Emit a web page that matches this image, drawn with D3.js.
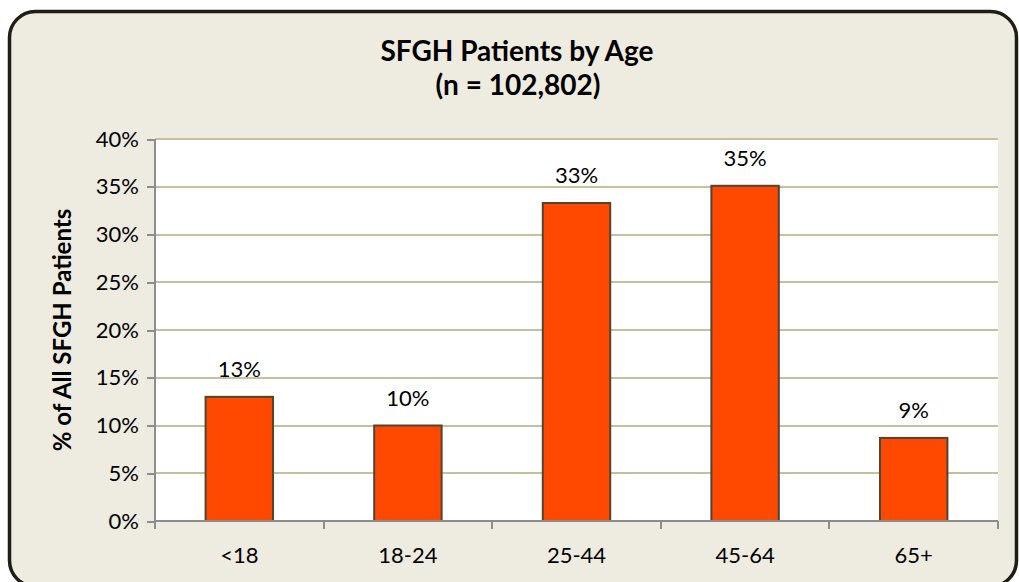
<html>

<head>
    <meta charset="utf-8">
    <title>SFGH Patients by Age</title>
    <style>
        body {
            margin: 0;
            background: #fff;
        }

        text {
            font-family: Lato, "Open Sans", sans-serif;
            fill: #000;
        }

        .axis path,
        .axis line {
            fill: none;
            stroke: #8c8c8c;
            stroke-width: 2;
            shape-rendering: crispEdges;
        }

        .axis text {
            font-size: 22px;
        }

        .grid line {
            stroke: #c7c09f;
            stroke-width: 2;
            shape-rendering: crispEdges;
        }
    </style>
    <script src="https://cdn.jsdelivr.net/npm/d3@7"></script>
</head>

<body>

</body>
<script>
    var ageGroups = ["<18", "18-24", "25-44", "45-64", "65+"];
    var patientShare = [13.0, 10.0, 33.3, 35.1, 8.7];
    var yTicks = [0, 5, 10, 15, 20, 25, 30, 35, 40];

    var data = ageGroups.map(function(g, i) {
        return { group: g, value: patientShare[i] };
    });

    var W = 1019,
        H = 582;
    var margin = { top: 139, right: 21, bottom: 61, left: 155 },
        width = W - margin.left - margin.right,
        height = H - margin.top - margin.bottom;

    var svg = d3.select("body").append("svg")
        .attr("width", W)
        .attr("height", H);

    // chart frame (bottom edge runs just past the picture)
    svg.append("rect")
        .attr("x", 9.5)
        .attr("y", 11.5)
        .attr("width", 1007)
        .attr("height", 575)
        .attr("rx", 26)
        .attr("fill", "#eeebe0")
        .attr("stroke", "#1f1d14")
        .attr("stroke-width", 3.5);

    svg.append("text")
        .attr("x", 517)
        .attr("y", 61)
        .attr("text-anchor", "middle")
        .style("font-size", "28px")
        .style("font-weight", "bold")
        .text("SFGH Patients by Age");
    svg.append("text")
        .attr("x", 518)
        .attr("y", 95)
        .attr("text-anchor", "middle")
        .style("font-size", "28px")
        .style("font-weight", "bold")
        .text("(n = 102,802)");

    var g = svg.append("g")
        .attr("transform", "translate(" + margin.left + "," + margin.top + ")");

    var x = d3.scaleBand()
        .domain(ageGroups)
        .range([0, width])
        .paddingInner(0.6)
        .paddingOuter(0.3);

    var y = d3.scaleLinear()
        .domain([0, 40])
        .range([height, 0]);

    g.append("rect")
        .attr("width", width)
        .attr("height", height)
        .attr("fill", "#fff");

    g.append("g")
        .attr("class", "grid")
        .selectAll("line")
        .data(yTicks.slice(1))
        .enter()
        .append("line")
        .attr("x1", 0)
        .attr("x2", width)
        .attr("y1", function(d) { return y(d); })
        .attr("y2", function(d) { return y(d); });

    g.selectAll(".bar")
        .data(data)
        .enter()
        .append("rect")
        .attr("class", "bar")
        .attr("x", function(d) { return x(d.group); })
        .attr("y", function(d) { return y(d.value); })
        .attr("width", x.bandwidth())
        .attr("height", function(d) { return height - y(d.value); })
        .attr("fill", "#ff4800")
        .attr("stroke", "#4d4631")
        .attr("stroke-width", 2);

    g.selectAll(".label")
        .data(data)
        .enter()
        .append("text")
        .attr("class", "label")
        .attr("x", function(d) { return x(d.group) + x.bandwidth() / 2; })
        .attr("y", function(d) { return y(d.value) - 20; })
        .attr("text-anchor", "middle")
        .style("font-size", "22px")
        .text(function(d) { return Math.round(d.value) + "%"; });

    var yAxis = d3.axisLeft(y)
        .tickValues(yTicks)
        .tickSize(8)
        .tickPadding(8)
        .tickFormat(function(d) { return d + "%"; });

    g.append("g")
        .attr("class", "y axis")
        .call(yAxis)
        .call(function(s) { s.select(".domain").attr("d", "M0," + (height + 8) + "V0"); });

    // x axis: ticks sit between categories
    var bounds = d3.range(ageGroups.length + 1).map(function(i) { return i * width / ageGroups.length; });
    var xAxis = g.append("g")
        .attr("class", "x axis")
        .attr("transform", "translate(0," + height + ")");
    xAxis.append("path")
        .attr("d", "M0,0H" + width);
    xAxis.selectAll("line")
        .data(bounds.slice(1))
        .enter()
        .append("line")
        .attr("x1", function(d) { return d; })
        .attr("x2", function(d) { return d; })
        .attr("y1", 0)
        .attr("y2", 8);
    xAxis.selectAll("text")
        .data(ageGroups)
        .enter()
        .append("text")
        .attr("x", function(d) { return x(d) + x.bandwidth() / 2; })
        .attr("y", 42)
        .attr("text-anchor", "middle")
        .text(function(d) { return d; });

    svg.append("text")
        .attr("transform", "translate(71," + (margin.top + height / 2) + ") rotate(-90)")
        .attr("text-anchor", "middle")
        .style("font-size", "24px")
        .style("font-weight", "bold")
        .text("% of All SFGH Patients");
</script>

</html>
